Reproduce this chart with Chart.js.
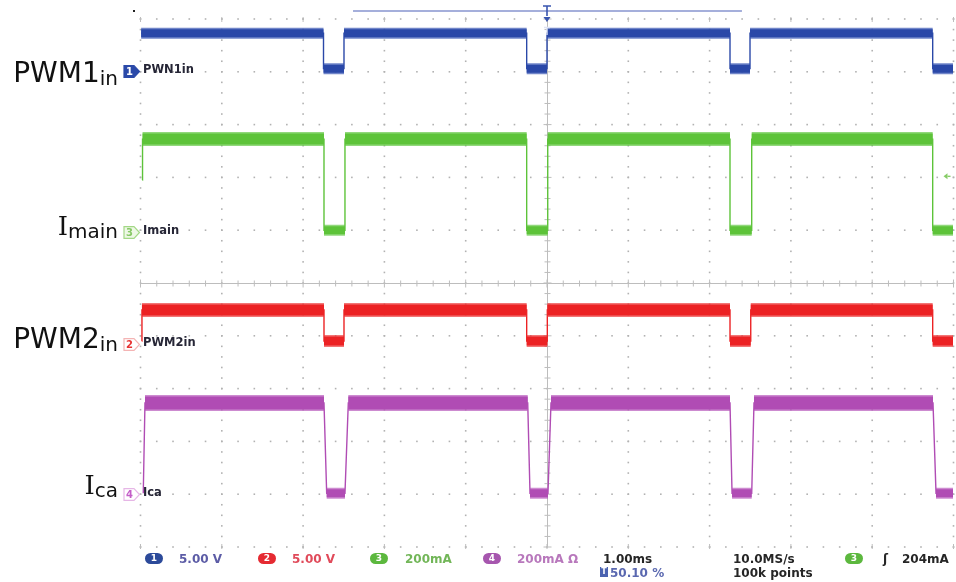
<!DOCTYPE html>
<html>
<head>
<meta charset="utf-8">
<script src="https://cdn.jsdelivr.net/npm/chart.js@4.4.1/dist/chart.umd.min.js"></script>
<style>
  html, body { margin: 0; padding: 0; background: #fff; }
  #wrap { position: relative; width: 956px; height: 582px; overflow: hidden; font-family: 'DejaVu Sans', Verdana, sans-serif; }
  #scope { position: absolute; left: 0; top: 0; }
  .big { position: absolute; right: 838px; font-size: 28px; line-height: 28px; color: #111; white-space: nowrap; }
  .big .sub { font-size: 20px; vertical-align: -3px; }
  .big .serif { font-family: 'DejaVu Serif', serif; font-size: 26px; }
  .tag { position: absolute; left: 143px; font-weight: bold; font-size: 11.5px; line-height: 12px; color: #262636; white-space: nowrap; }
  .mk { position: absolute; left: 123px; }
  .st { position: absolute; font-weight: bold; font-size: 12px; line-height: 12px; white-space: nowrap; color: #262626; }
  .pill { position: absolute; top: 553px; width: 18px; height: 11px; border-radius: 6px; color: #fff; font-weight: bold; font-size: 9px; line-height: 11px; text-align: center; }
</style>
</head>
<body>
<div id="wrap">
  <canvas id="scope" width="956" height="582"></canvas>

  <div class="big" style="top:59px">PWM1<span class="sub">in</span></div>
  <div class="big" style="top:212px"><span class="serif">I</span><span class="sub">main</span></div>
  <div class="big" style="top:325px">PWM2<span class="sub">in</span></div>
  <div class="big" style="top:471px"><span class="serif">I</span><span class="sub">ca</span></div>

  <div class="pill" style="left:145px;background:#2c4a9a">1</div>
  <div class="st" style="left:179px;top:553px;color:#5c5ca6">5.00 V</div>
  <div class="pill" style="left:258px;background:#e52a32">2</div>
  <div class="st" style="left:292px;top:553px;color:#e04a5a">5.00 V</div>
  <div class="pill" style="left:370px;background:#5cb83e">3</div>
  <div class="st" style="left:405px;top:553px;color:#72b658">200mA</div>
  <div class="pill" style="left:483px;background:#a656ae">4</div>
  <div class="st" style="left:517px;top:553px;color:#b878bc">200mA Ω</div>
  <div class="st" style="left:603px;top:553px">1.00ms</div>
  <div class="st" style="left:600px;top:567px;width:8px;height:10px;background:#4a62b0;color:#fff;font-size:8px;line-height:10px;text-align:center">T</div>
  <div class="st" style="left:610px;top:567px;color:#5a68b0">50.10 %</div>
  <div class="st" style="left:733px;top:553px">10.0MS/s</div>
  <div class="st" style="left:733px;top:567px">100k points</div>
  <div class="pill" style="left:845px;background:#5cb83e">3</div>
  <div class="st" style="left:883px;top:553px">ʃ</div>
  <div class="st" style="left:902px;top:553px">204mA</div>
</div>

<script>
// time axis in ms (1.00 ms/div, trigger at 0)
const timeMin = -5;
const timeMax = 5;

// CH1 PWM1in (V)
const ch1Time = [-4.992, -2.749, -2.749, -2.497, -2.497, -0.250, -0.250, 0.000, 0.000, 2.251, 2.251, 2.497, 2.497, 4.744, 4.744, 4.994];
const ch1Val  = [3.46, 3.46, 0.10, 0.10, 3.46, 3.46, 0.10, 0.10, 3.46, 3.46, 0.10, 0.10, 3.46, 3.46, 0.10, 0.10];

// CH2 PWM2in (V)
const ch2Time = [-4.985, -4.982, -2.743, -2.743, -2.497, -2.497, -0.250, -0.250, 0.004, 0.004, 2.251, 2.251, 2.506, 2.506, 4.744, 4.744, 4.994];
const ch2Val  = [0.18, 3.12, 3.12, 0.18, 0.18, 3.12, 3.12, 0.18, 0.18, 3.12, 3.12, 0.18, 0.18, 3.12, 3.12, 0.18, 0.18];

// CH3 Imain (mA)
const ch3Time = [-4.978, -4.975, -2.743, -2.743, -2.485, -2.485, -0.250, -0.250, 0.009, 0.009, 2.251, 2.251, 2.518, 2.518, 4.744, 4.744, 4.994];
const ch3Val  = [190, 345, 345, 0, 0, 345, 345, 0, 0, 345, 345, 0, 0, 345, 345, 0, 0];

// CH4 Ica (mA)
const ch4Time = [-4.966, -4.945, -2.743, -2.710, -2.485, -2.444, -0.237, -0.209, 0.012, 0.049, 2.251, 2.276, 2.518, 2.546, 4.748, 4.785, 4.994];
const ch4Val  = [-3, 339, 339, -3, -3, 339, 339, -3, -3, 339, 339, -3, -3, 339, 339, -3, -3];

// vertical settings: units per division and ground marker position (div above centre)
const perDiv    = { ch1: 5, ch2: 5, ch3: 200, ch4: 200 };
const groundDiv = { ch1: 4.04, ch2: -1.136, ch3: 1.0, ch4: -3.968 };

const triggerLevel = 204;          // mA on CH3
const recordView = [-2.386, 2.398]; // ms, bar above the graticule

const channels = [
  { id: 'ch1', t: ch1Time, v: ch1Val, color: '#2a48a8', fuzz: 'rgba(52,82,178,0.7)', wHi: 11, wLo: 11 },
  { id: 'ch3', t: ch3Time, v: ch3Val, color: '#5dc339', fuzz: 'rgba(100,200,68,0.7)', wHi: 14, wLo: 11 },
  { id: 'ch2', t: ch2Time, v: ch2Val, color: '#ec2224', fuzz: 'rgba(238,60,60,0.7)', wHi: 14, wLo: 12 },
  { id: 'ch4', t: ch4Time, v: ch4Val, color: '#b04cb4', fuzz: 'rgba(184,90,188,0.7)', wHi: 16, wLo: 11 },
];

// flat pieces of a trace at one level, split by gaps
function flatParts(times, vals, level) {
  const out = [];
  for (let i = 0; i < times.length - 1; i++) {
    if (vals[i] === level && vals[i + 1] === level) {
      out.push({ x: times[i], y: level }, { x: times[i + 1], y: level }, { x: times[i + 1], y: null });
    }
  }
  return out;
}

const datasets = [];
channels.forEach((ch) => {
  const hi = Math.max(...ch.v);
  const lo = Math.min(...ch.v.slice(2));
  const base = { yAxisID: ch.id, pointRadius: 0, borderCapStyle: 'butt', spanGaps: false, tension: 0 };
  datasets.push({ ...base, data: flatParts(ch.t, ch.v, hi), borderColor: ch.color, borderWidth: ch.wHi - 3 });
  datasets.push({ ...base, data: flatParts(ch.t, ch.v, lo), borderColor: ch.color, borderWidth: ch.wLo - 3 });
  datasets.push({ ...base, data: flatParts(ch.t, ch.v, hi), borderColor: ch.fuzz, borderWidth: ch.wHi });
  datasets.push({ ...base, data: flatParts(ch.t, ch.v, lo), borderColor: ch.fuzz, borderWidth: ch.wLo });
  datasets.push({ ...base, data: ch.t.map((t, i) => ({ x: t, y: ch.v[i] })), borderColor: ch.color, borderWidth: 1.4 });
});

// dotted graticule with ticked centre lines
const graticule = {
  id: 'graticule',
  beforeDatasetsDraw(chart) {
    const { ctx, chartArea: a, scales } = chart;
    const sx = scales.x, sd = scales.div;
    ctx.save();
    ctx.fillStyle = '#b2b2b2';
    for (let i = -5; i <= 5; i++) {
      if (i === 0) continue;
      const px = sx.getPixelForValue(i);
      const py = sd.getPixelForValue(i);
      for (let k = -25; k <= 25; k++) {
        ctx.fillRect(px - 0.8, sd.getPixelForValue(k / 5) - 0.8, 1.6, 1.6);
        ctx.fillRect(sx.getPixelForValue(k / 5) - 0.8, py - 0.8, 1.6, 1.6);
      }
    }
    ctx.strokeStyle = '#bdbdbd';
    ctx.lineWidth = 1;
    const cx = Math.round(sx.getPixelForValue(0)) + 0.5;
    const cy = Math.round(sd.getPixelForValue(0)) + 0.5;
    ctx.beginPath();
    ctx.moveTo(cx, a.top); ctx.lineTo(cx, a.bottom);
    ctx.moveTo(a.left, cy); ctx.lineTo(a.right, cy);
    for (let k = -25; k <= 25; k++) {
      const len = k % 5 === 0 ? 4 : 3;
      const yy = sd.getPixelForValue(k / 5);
      const xx = sx.getPixelForValue(k / 5);
      ctx.moveTo(cx - len, yy); ctx.lineTo(cx + len, yy);
      ctx.moveTo(xx, cy - len); ctx.lineTo(xx, cy + len);
    }
    // edge ticks at major divisions
    for (let i = -5; i <= 5; i++) {
      const xx = sx.getPixelForValue(i);
      ctx.moveTo(xx, a.top - 2); ctx.lineTo(xx, a.top + 3);
      ctx.moveTo(xx, a.bottom - 3); ctx.lineTo(xx, a.bottom + 2);
    }
    ctx.stroke();
    ctx.restore();
  },
  afterDatasetsDraw(chart) {
    const { ctx, chartArea: a, scales } = chart;
    const sx = scales.x;
    ctx.save();
    // record view bar
    ctx.strokeStyle = '#8795cf';
    ctx.lineWidth = 1.5;
    ctx.beginPath();
    ctx.moveTo(sx.getPixelForValue(recordView[0]), 11);
    ctx.lineTo(sx.getPixelForValue(recordView[1]), 11);
    ctx.stroke();
    // trigger position marker
    const tx = sx.getPixelForValue(0);
    ctx.strokeStyle = '#3a56b0';
    ctx.lineWidth = 1.6;
    ctx.beginPath();
    ctx.moveTo(tx - 4, 6); ctx.lineTo(tx + 4, 6);
    ctx.moveTo(tx, 6); ctx.lineTo(tx, 16);
    ctx.stroke();
    ctx.fillStyle = '#3a56b0';
    ctx.beginPath();
    ctx.moveTo(tx - 3.5, 17); ctx.lineTo(tx + 3.5, 17); ctx.lineTo(tx, 22);
    ctx.fill();
    ctx.strokeStyle = '#dfe4f4';
    ctx.lineWidth = 1.4;
    ctx.beginPath();
    ctx.moveTo(tx - 3, 27.5); ctx.lineTo(tx + 3, 27.5);
    ctx.moveTo(tx, 27.5); ctx.lineTo(tx, 35);
    ctx.stroke();
    // trigger level arrow on the right (CH3)
    const ly = scales.ch3.getPixelForValue(triggerLevel);
    ctx.fillStyle = '#86cc66';
    ctx.beginPath();
    ctx.moveTo(a.right - 10, ly); ctx.lineTo(a.right - 6, ly - 3); ctx.lineTo(a.right - 6, ly + 3);
    ctx.fill();
    ctx.fillRect(a.right - 6, ly - 0.7, 3, 1.4);
    ctx.fillStyle = '#222';
    ctx.fillRect(133, 10, 2, 2);
    ctx.restore();
  }
};

function yScale(id) {
  return { type: 'linear', axis: 'y', display: false,
    min: (-5 - groundDiv[id]) * perDiv[id], max: (5 - groundDiv[id]) * perDiv[id] };
}

const chart = new Chart(document.getElementById('scope').getContext('2d'), {
  type: 'line',
  data: { datasets: datasets },
  options: {
    responsive: false,
    animation: false,
    events: [],
    layout: { padding: { left: 140.5, right: 2.5, top: 19, bottom: 35 } },
    scales: {
      x: { type: 'linear', min: timeMin, max: timeMax, display: false },
      div: { type: 'linear', axis: 'y', min: -5, max: 5, display: false },
      ch1: yScale('ch1'),
      ch2: yScale('ch2'),
      ch3: yScale('ch3'),
      ch4: yScale('ch4'),
    },
    plugins: { legend: { display: false }, tooltip: { enabled: false } },
  },
  plugins: [graticule],
});

// channel ground markers and names, placed from each channel's scale
const tags = [
  { axis: 'ch1', mark: '1', text: 'PWN1in', fill: '#2b4aa9', stroke: '#2b4aa9', ink: '#fff' },
  { axis: 'ch3', mark: '3', text: 'Imain', fill: '#eef8e6', stroke: '#a3d886', ink: '#88c866' },
  { axis: 'ch2', mark: '2', text: 'PWM2in', fill: '#fff', stroke: '#f4b4b4', ink: '#e83434' },
  { axis: 'ch4', mark: '4', text: 'Ica', fill: '#fff', stroke: '#e6b6e6', ink: '#c45ec8' },
];
const wrap = document.getElementById('wrap');
tags.forEach((tg) => {
  const y = chart.scales[tg.axis].getPixelForValue(0);
  const mk = document.createElement('div');
  mk.className = 'mk';
  mk.style.top = (y - 6.5) + 'px';
  mk.innerHTML = '<svg width="18" height="13" viewBox="0 0 18 13">' +
    '<path d="M1 0.7 H11 L16.5 6.5 L11 12.3 H1 Z" fill="' + tg.fill + '" stroke="' + tg.stroke + '" stroke-width="1.2"/>' +
    '<text x="6.5" y="10.3" text-anchor="middle" font-family="DejaVu Sans" font-weight="bold" font-size="10" fill="' + tg.ink + '">' + tg.mark + '</text></svg>';
  wrap.appendChild(mk);
  const lb = document.createElement('div');
  lb.className = 'tag';
  lb.style.top = (y - 6.5) + 'px';
  lb.textContent = tg.text;
  wrap.appendChild(lb);
});
</script>
</body>
</html>
